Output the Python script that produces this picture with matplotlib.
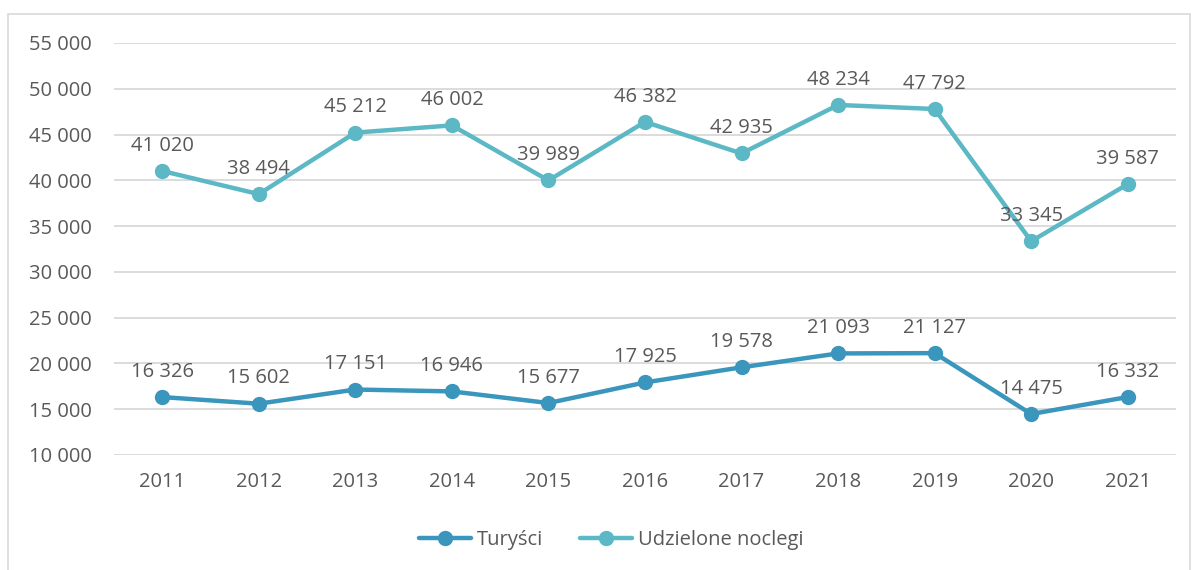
import matplotlib
matplotlib.use("Agg")
import matplotlib.pyplot as plt
from matplotlib.patches import Rectangle
from matplotlib.ticker import FuncFormatter

years = ["2011", "2012", "2013", "2014", "2015", "2016", "2017", "2018", "2019", "2020", "2021"]
turysci = [16326, 15602, 17151, 16946, 15677, 17925, 19578, 21093, 21127, 14475, 16332]
noclegi = [41020, 38494, 45212, 46002, 39989, 46382, 42935, 48234, 47792, 33345, 39587]
yticks = [10000, 15000, 20000, 25000, 30000, 35000, 40000, 45000, 50000, 55000]

plt.rcParams['font.family'] = ['Open Sans', 'DejaVu Sans']
TXT = '#595959'
C_T = '#3A96BC'
C_N = '#5BB8C4'

W, H = 1192, 570
fig = plt.figure(figsize=(W/100, H/100), dpi=100)
ax = fig.add_axes([114/W, 1-455/H, (1176-114)/W, (455-43)/H])

def fmt(v):
    return f"{int(v):,}".replace(",", " ")

x = list(range(len(years)))
ax.plot(x, turysci, color=C_T, lw=3.2, marker='o', ms=10, label='Turyści', solid_capstyle='round', zorder=3)
ax.plot(x, noclegi, color=C_N, lw=3.2, marker='o', ms=10, label='Udzielone noclegi', solid_capstyle='round', zorder=3)

FS = 14.5
for xi, v in zip(x, turysci):
    ax.annotate(fmt(v), (xi, v), xytext=(0, 11), textcoords='offset points', ha='center', va='bottom', fontsize=FS, color=TXT)
for xi, v in zip(x, noclegi):
    ax.annotate(fmt(v), (xi, v), xytext=(0, 11), textcoords='offset points', ha='center', va='bottom', fontsize=FS, color=TXT)

ax.set_xlim(-0.5, len(years) - 0.5)
ax.set_ylim(10000, 55000)
ax.set_yticks(yticks)
ax.yaxis.set_major_formatter(FuncFormatter(lambda v, p: fmt(v)))
ax.set_xticks(x)
ax.set_xticklabels(years)
ax.grid(axis='y', color='#D9D9D9', lw=1.3)
ax.set_axisbelow(True)
for s in ax.spines.values():
    s.set_visible(False)
ax.tick_params(length=0, labelsize=FS, labelcolor=TXT)
ax.tick_params(axis='y', pad=16)
ax.tick_params(axis='x', pad=12)

fig.patches.append(Rectangle((8/W, -0.02), (1190-8)/W, 1-14/H+0.02, transform=fig.transFigure,
                             fill=False, edgecolor='#D9D9D9', lw=1.2))

leg = fig.legend(loc='center', bbox_to_anchor=(611/W, 1-540/H), ncol=2, frameon=False,
                 fontsize=FS, handlelength=2.6, columnspacing=1.8, handletextpad=0.3)
for t in leg.get_texts():
    t.set_color(TXT)

fig.savefig('out.png', dpi=100)
